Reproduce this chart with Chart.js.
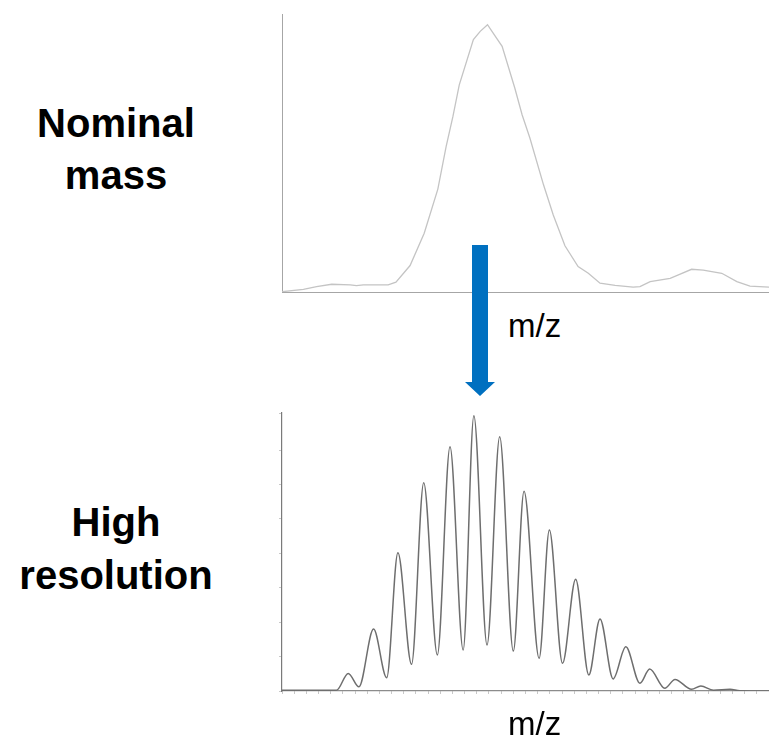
<!DOCTYPE html>
<html>
<head>
<meta charset="utf-8">
<script src="https://cdn.jsdelivr.net/npm/chart.js@4/dist/chart.umd.min.js"></script>
<style>
  html, body { margin: 0; padding: 0; background: #fff; }
  body { width: 769px; height: 736px; position: relative; overflow: hidden; font-family: "Liberation Sans", Arial, sans-serif; }
  .box { position: absolute; }
  .side { position: absolute; left: 0; width: 232px; text-align: center; font-weight: bold; font-size: 40px; color: #000; }
  .mz { position: absolute; font-size: 33px; line-height: 33px; color: #000; }
</style>
</head>
<body>

<div class="box" style="left:272px; top:4px; width:497px; height:298px;"><canvas id="nominal"></canvas></div>
<div class="box" style="left:262px; top:403px; width:507px; height:308px;"><canvas id="highres"></canvas></div>

<div class="side" style="top:97px; line-height:52px;">Nominal<br>mass</div>
<div class="side" style="top:496px; line-height:53px;">High<br>resolution</div>
<div class="mz" style="left:508px; top:309px;">m/z</div>
<div class="mz" style="left:508px; top:707px;">m/z</div>

<!-- 藍色箭頭 -->
<svg class="box" style="left:0; top:0;" width="769" height="736">
  <polygon points="472,245 488,245 488,382 495,382 480,396 465,382 472,382" fill="#0070C0"/>
</svg>

<script>
// 低解析度 (nominal mass) 的輪廓
var nominalX = [0, 4.4, 7.1, 10.2, 14.0, 15.3, 16.7, 21.8, 23.4, 26.3, 29.2, 32.0, 33.7, 35.1, 36.4,
    39.3, 40.7, 42.2, 43.5, 45.2, 47.8, 49.3, 50.9, 53.7, 55.7, 58.1, 60.8, 62.9, 65.3, 68.4,
    72.1, 73.5, 75.6, 79.7, 81.4, 84.1, 86.5, 90.3, 93.4, 96.1, 100];
var nominalY = [0.1, 1.0, 2.0, 2.9, 2.7, 2.4, 2.7, 2.7, 3.7, 9.9, 22.0, 38.5, 54.4, 65.7, 77.5,
    94.4, 97.5, 100, 96.5, 91.9, 76.3, 66.3, 57.6, 40.1, 28.8, 17.3, 9.5, 7.0, 3.3, 2.5,
    1.8, 2.0, 3.9, 5.1, 6.4, 8.5, 8.2, 7.0, 3.9, 2.2, 1.8];

// 高解析度的同位素峰
var highresX = [0, 11.2, 13.6, 15.8, 18.8, 21.5, 23.8, 26.6, 29.1, 31.9, 34.5, 37.2, 39.4, 42.1,
    44.7, 47.5, 49.7, 52.8, 54.9, 57.6, 60.3, 63.0, 65.3, 68.0, 70.6, 73.5, 75.5, 78.6,
    80.7, 84.1, 86.0, 88.6, 92.0, 94.0, 100];
var highresY = [0.3, 0.3, 6.4, 1.5, 22.5, 4.8, 50.2, 9.7, 75.7, 13.1, 88.7, 14.9, 100, 16.7,
    92.4, 14.5, 72.6, 11.9, 58.5, 10.1, 40.6, 5.8, 26.2, 4.4, 16.1, 2.8, 8.0, 1.0,
    4.2, 0.6, 1.8, 0.3, 0.6, 0.1, 0];

function to_points(xs, ys) {
    var pts = [];
    xs.forEach(function(x, i) {
        pts.push({ x: x, y: ys[i] });
    });
    return pts;
}

function draw_nominal() {
    var ctx = document.getElementById('nominal').getContext('2d');
    new Chart(ctx, {
        type: 'line',
        data: {
            datasets: [{
                data: to_points(nominalX, nominalY),
                borderColor: '#c4c4c4',
                borderWidth: 1.3,
                pointRadius: 0,
                fill: false,
                tension: 0
            }]
        },
        options: {
            responsive: true,
            maintainAspectRatio: false,
            animation: false,
            layout: { padding: { left: 10, top: 10, right: 0, bottom: 10 } },
            plugins: { legend: { display: false }, tooltip: { enabled: false } },
            scales: {
                x: {
                    type: 'linear', min: 0, max: 100,
                    ticks: { display: false },
                    grid: { display: false, drawTicks: false },
                    border: { color: '#a6a6a6', width: 1 }
                },
                y: {
                    min: 0, max: 104,
                    ticks: { display: false },
                    grid: { display: false, drawTicks: false },
                    border: { color: '#a6a6a6', width: 1 }
                }
            }
        }
    });
}

function draw_highres() {
    var ctx = document.getElementById('highres').getContext('2d');
    new Chart(ctx, {
        type: 'line',
        data: {
            datasets: [{
                data: to_points(highresX, highresY),
                borderColor: '#6e6e6e',
                borderWidth: 1.5,
                pointRadius: 0,
                fill: false,
                cubicInterpolationMode: 'monotone'
            }]
        },
        options: {
            responsive: true,
            maintainAspectRatio: false,
            animation: false,
            layout: { padding: { left: 17, top: 10, right: 0, bottom: 17 } },
            plugins: { legend: { display: false }, tooltip: { enabled: false } },
            scales: {
                x: {
                    type: 'linear', min: 0, max: 100,
                    ticks: { display: false, stepSize: 2.5, autoSkip: false },
                    grid: { display: true, drawOnChartArea: false, drawTicks: true, tickLength: 3, color: '#c8c8c8' },
                    border: { color: '#8c8c8c', width: 1.2 }
                },
                y: {
                    min: 0, max: 101,
                    ticks: { display: false, stepSize: 12.5, autoSkip: false },
                    grid: { display: true, drawOnChartArea: false, drawTicks: true, tickLength: 3, color: '#c8c8c8' },
                    border: { color: '#7a7a7a', width: 1.2 }
                }
            }
        }
    });
}

draw_nominal();
draw_highres();
</script>
</body>
</html>
